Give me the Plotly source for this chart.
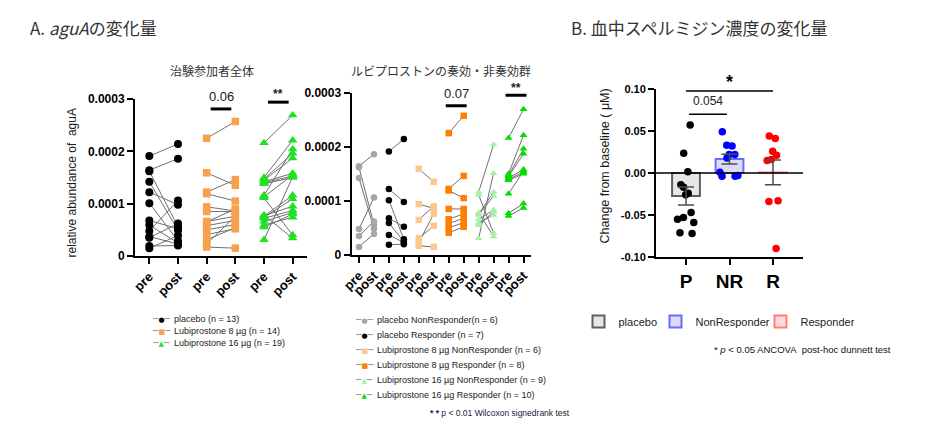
import numpy as np
import plotly.graph_objects as go

W, H = 945, 437

# ---------------- data ----------------
PHASES = ["pre", "post"]

# Panel A: relative abundance of aguA, pre / post (paired), by subgroup
PLACEBO_NR_PRE = [0.000164, 0.000162, 0.000142, 0.000048, 0.000035, 0.000015]
PLACEBO_NR_POST = [0.000186, 0.000056, 0.000049, 0.000106, 0.000062, 0.000039]
PLACEBO_R_PRE = [0.000191, 0.000122, 0.000101, 0.000068, 0.000059, 0.000037, 0.000019]
PLACEBO_R_POST = [0.000214, 0.000098, 0.000029, 0.000052, 0.000025, 0.000023, 0.000020]
L8_NR_PRE = [0.000159, 0.000094, 0.000065, 0.000031, 0.000023, 0.000017]
L8_NR_POST = [0.000135, 0.000086, 0.000090, 0.000054, 0.000076, 0.000015]
L8_R_PRE = [0.000225, 0.000122, 0.000119, 0.000085, 0.000066, 0.000058, 0.000050, 0.000041]
L8_R_POST = [0.000257, 0.000146, 0.000105, 0.000085, 0.000076, 0.000068, 0.000060, 0.000052]
L16_NR_PRE = [0.000116, 0.000111, 0.000078, 0.000076, 0.000074, 0.000066, 0.000059, 0.000055, 0.000031]
L16_NR_POST = [0.000204, 0.000040, 0.000034, 0.000116, 0.000109, 0.000083, 0.000074, 0.000080, 0.000151]
L16_R_PRE = [0.000216, 0.000150, 0.000147, 0.000145, 0.000142, 0.000140, 0.000138, 0.000113, 0.000077, 0.000072]
L16_R_POST = [0.000269, 0.000221, 0.000196, 0.000187, 0.000158, 0.000153, 0.000150, 0.000155, 0.000095, 0.000087]

A_TICKS = [0, 0.0001, 0.0002, 0.0003]
A_TICKTEXT = ["0", "0.0001", "0.0002", "0.0003"]
A_MAX = 0.0003

A1_LABELS = ["placebo", "Lubiprostone 8 µg", "Lubiprostone 16 µg"]
A2_LABELS = ["placebo NonResponder(n = {})", "placebo Responder (n = {})",
             "Lubiprostone 8 µg NonResponder (n = {})", "Lubiprostone 8 µg Responder (n = {})",
             "Lubiprostone 16 µg NonResponder (n = {})", "Lubiprostone 16 µg Responder (n = {})"]

# significance labels: (group index, label)
A1_SIG = [(1, "0.06"), (2, "**")]
A2_SIG = [(3, "0.07"), (5, "**")]

# Panel B: change from baseline of blood spermidine (µM)
B_CATS = ["P", "NR", "R"]
B_NAMES = ["placebo", "NonResponder", "Responder"]
B_P = [0.057, 0.0235, 0.0016, -0.014, -0.017, -0.024, -0.026, -0.047, -0.053, -0.055, -0.059, -0.071, -0.072]
B_NR = [0.049, 0.033, 0.032, 0.022, 0.022, 0.018, 0.001, -0.003, -0.004, -0.004]
B_R = [0.044, 0.041, 0.026, 0.021, 0.016, 0.015, -0.033, -0.034, -0.090]
B_TICKS = [-0.10, -0.05, 0.0, 0.05, 0.10]
B_MIN, B_MAX = -0.10, 0.10

# ---------------- styles ----------------
LINE_COL = "#707070"
A1_STYLE = [("#000000", "circle", 8), ("#f8a04c", "square", 7.5), ("#22e022", "triangle-up", 8.5)]
A2_STYLE = [("#a6a6a6", "circle", 6.5), ("#000000", "circle", 6.5),
            ("#ffc68e", "square", 6.5), ("#ff7f00", "square", 6.5),
            ("#a8f0a8", "triangle-up", 7), ("#00e000", "triangle-up", 7)]
GLYPH = {"circle": "●", "square": "■", "triangle-up": "▲"}
B_POINT = ["#000000", "#0000ff", "#ff0000"]
B_FILL = ["#e6e6e6", "#dcdcf8", "#ffdcdc"]
B_EDGE = ["#5f5f5f", "#6a6aff", "#ff7f7f"]
B_LEGEND_X = [578.5, 655.5, 760.5]

LAT = "Liberation Sans, Arial, sans-serif"
JP = "Noto Sans CJK JP, sans-serif"


def px(x):
    return x / W


def py(y):
    return 1 - y / H


def pair_xy(pre, post, g):
    xs, ys = [], []
    for a, b in zip(pre, post):
        xs += [2 * g, 2 * g + 1, None]
        ys += [a, b, None]
    return xs, ys


A2_GROUPS = [(PLACEBO_NR_PRE, PLACEBO_NR_POST), (PLACEBO_R_PRE, PLACEBO_R_POST),
             (L8_NR_PRE, L8_NR_POST), (L8_R_PRE, L8_R_POST),
             (L16_NR_PRE, L16_NR_POST), (L16_R_PRE, L16_R_POST)]
A1_GROUPS = [(A2_GROUPS[2 * k][0] + A2_GROUPS[2 * k + 1][0],
              A2_GROUPS[2 * k][1] + A2_GROUPS[2 * k + 1][1]) for k in range(3)]

fig = go.Figure()

for axn, groups, styles in (("", A1_GROUPS, A1_STYLE), ("2", A2_GROUPS, A2_STYLE)):
    for g, ((pre, post), (col, sym, size)) in enumerate(zip(groups, styles)):
        xs, ys = pair_xy(pre, post, g)
        fig.add_trace(go.Scatter(
            x=xs, y=ys, mode="lines+markers", xaxis="x" + axn, yaxis="y" + axn,
            line=dict(color=LINE_COL, width=1),
            marker=dict(color=col, symbol=sym, size=size, line=dict(width=0)),
            showlegend=False, cliponaxis=False, hoverinfo="skip"))

# Panel B bars (mean), points, SEM
B_DATA = [B_P, B_NR, B_R]
means = [float(np.mean(v)) for v in B_DATA]
sems = [float(np.std(v, ddof=1) / np.sqrt(len(v))) for v in B_DATA]
LEG_IDS = ["legend", "legend2", "legend3"]
for g, name in enumerate(B_NAMES):
    fig.add_trace(go.Bar(
        x=[g], y=[means[g]], width=0.64, name=name, xaxis="x3", yaxis="y3",
        marker=dict(color=B_FILL[g], line=dict(color=B_EDGE[g], width=2)),
        legend=LEG_IDS[g], hoverinfo="skip"))
for g, vals in enumerate(B_DATA):
    fig.add_trace(go.Box(
        x=[g] * len(vals), y=vals, xaxis="x3", yaxis="y3", boxpoints="all",
        jitter=0.9, pointpos=0, width=0.6, fillcolor="rgba(0,0,0,0)",
        line=dict(width=0, color="rgba(0,0,0,0)"),
        marker=dict(color=B_POINT[g], size=7.5), showlegend=False, hoverinfo="skip"))
fig.add_trace(go.Scatter(
    x=list(range(3)), y=means, mode="markers", xaxis="x3", yaxis="y3",
    marker=dict(opacity=0), showlegend=False, hoverinfo="skip",
    error_y=dict(type="data", array=sems, color="#4d4d4d", thickness=1.5, width=8)))

axis_common = dict(showline=True, linecolor="black", linewidth=2, ticks="outside",
                   ticklen=6, tickwidth=2, tickcolor="black", showgrid=False,
                   zeroline=False, fixedrange=True, automargin=False)
tick_bold12 = dict(family=LAT, size=12, color="black", weight="bold")
tick_bold11 = dict(family=LAT, size=11, color="black", weight="bold")
xtick_font = dict(family=LAT, size=13, color="black", weight="bold")

legends = {}
for lid, lx in zip(LEG_IDS, B_LEGEND_X):
    legends[lid] = dict(orientation="h", x=px(lx), y=py(307), xanchor="left", yanchor="top",
                        font=dict(family=LAT, size=11, color="#222222"),
                        bgcolor="rgba(0,0,0,0)", borderwidth=0, itemwidth=30)

fig.update_layout(
    template="none",
    width=W, height=H, margin=dict(l=0, r=0, t=0, b=0, pad=0, autoexpand=False),
    paper_bgcolor="white", plot_bgcolor="white",
    font=dict(family=LAT, color="#222222"),
    barmode="overlay", boxmode="overlay",
    xaxis=dict(domain=[px(135), px(307)], anchor="y", range=[-0.5, 5.5],
               tickvals=list(range(6)), ticktext=PHASES * 3, tickangle=-45,
               tickfont=xtick_font, **axis_common),
    yaxis=dict(domain=[py(256), py(99)], anchor="x", range=[0, A_MAX],
               tickvals=A_TICKS, ticktext=A_TICKTEXT, tickfont=tick_bold12, **axis_common),
    xaxis2=dict(domain=[px(351.5), px(531)], anchor="y2", range=[-0.5, 11.5],
                tickvals=list(range(12)), ticktext=PHASES * 6, tickangle=-45,
                tickfont=xtick_font, **axis_common),
    yaxis2=dict(domain=[py(255), py(92.5)], anchor="x2", range=[0, A_MAX],
                tickvals=A_TICKS, ticktext=A_TICKTEXT, tickfont=tick_bold12, **axis_common),
    xaxis3=dict(domain=[px(656), px(803)], anchor="y3", range=[-0.69, 2.69],
                tickvals=list(range(3)), ticktext=B_CATS,
                tickfont=dict(family=LAT, size=19, color="black", weight="bold"), **axis_common),
    yaxis3=dict(domain=[py(257), py(89)], anchor="x3", range=[B_MIN, B_MAX],
                tickvals=B_TICKS, ticktext=[f"{v:.2f}" for v in B_TICKS],
                tickfont=tick_bold11, **axis_common),
    **legends,
)

shapes = []
annotations = []

# zero reference line in panel B
shapes.append(dict(type="line", xref="x3 domain", yref="y3", x0=0, x1=1, y0=0, y1=0,
                   line=dict(color="black", width=1.5), layer="above"))

# significance bars panel A (text placed in axis-domain units so it may sit above the range)
for axn, sigs, half, bar_ys, txt_ys in (
        ("", A1_SIG, 0.36, {"0.06": 0.000281, "**": 0.000294}, {"0.06": 0.000304, "**": 0.000309}),
        ("2", A2_SIG, 0.70, {"0.07": 0.0002755, "**": 0.000295}, {"0.07": 0.000299, "**": 0.000309})):
    for g, lab in sigs:
        c = 2 * g + 0.5
        shapes.append(dict(type="line", xref="x" + axn, yref="y" + axn, x0=c - half, x1=c + half,
                           y0=bar_ys[lab], y1=bar_ys[lab], line=dict(color="black", width=3)))
        annotations.append(dict(xref="x" + axn, yref=f"y{axn} domain", x=c,
                                y=txt_ys[lab] / A_MAX, text=lab,
                                showarrow=False, xanchor="center", yanchor="middle",
                                font=dict(family=LAT, size=13 if lab != "**" else 12,
                                          color="#222222",
                                          weight="normal" if lab != "**" else "bold")))


def bdom(v):
    return (v - B_MIN) / (B_MAX - B_MIN)


# significance panel B
shapes.append(dict(type="line", xref="x3", yref="y3", x0=0, x1=2, y0=0.0976, y1=0.0976,
                   line=dict(color="black", width=1.5)))
annotations.append(dict(xref="x3", yref="y3 domain", x=1, y=bdom(0.108), text="*",
                        showarrow=False, xanchor="center", yanchor="middle",
                        font=dict(family=LAT, size=18, color="black", weight="bold")))
shapes.append(dict(type="line", xref="x3", yref="y3", x0=0.07, x1=0.94, y0=0.070, y1=0.070,
                   line=dict(color="black", width=1.5)))
annotations.append(dict(xref="x3", yref="y3 domain", x=0.5, y=bdom(0.0857), text="0.054",
                        showarrow=False, xanchor="center", yanchor="middle",
                        font=dict(family=LAT, size=12, color="#222222")))


def note(x, y, text, font, xanchor="center", angle=0):
    annotations.append(dict(xref="paper", yref="paper", x=px(x), y=py(y), showarrow=False,
                            xanchor=xanchor, yanchor="middle", textangle=angle, text=text,
                            font=font))


# titles
note(28, 27, "A. <i>aguA</i>の変化量", dict(family=JP, size=17, color="#333333"), "left")
note(569, 27, "B. 血中スペルミジン濃度の変化量", dict(family=JP, size=17, color="#333333"), "left")
note(212, 70, "治験参加者全体", dict(family=JP, size=12, color="#333333"))
note(441, 70, "ルビプロストンの奏効・非奏効群", dict(family=JP, size=12, color="#333333"))
# axis titles
note(72, 183.5, "relative abundance of&nbsp; aguA", dict(family=LAT, size=12, color="#1a1a1a"),
     angle=-90)
note(605, 166.5, "Change from baseline ( μM)", dict(family=LAT, size=12.5, color="#1a1a1a"),
     angle=-90)


def key_text(color, sym):
    ln = "<span style='color:#808080'>─</span>"
    return f"{ln}<span style='color:{color};font-size:7px'>{GLYPH[sym]}</span>{ln}"


# legend A1
for i, ((pre, post), (col, sym, _), lab) in enumerate(zip(A1_GROUPS, A1_STYLE, A1_LABELS)):
    yy = 319 + 11.9 * i
    note(161, yy, key_text(col, sym), dict(family="DejaVu Sans", size=9))
    note(172, yy, f"{lab} (n = {len(pre)})", dict(family=LAT, size=9, color="#222222"), "left")
# legend A2
for i, ((pre, post), (col, sym, _), lab) in enumerate(zip(A2_GROUPS, A2_STYLE, A2_LABELS)):
    yy = 320 + 14.9 * i
    note(364, yy, key_text(col, sym), dict(family="DejaVu Sans", size=9))
    note(375, yy, lab.format(len(pre)), dict(family=LAT, size=9, color="#222222"), "left")

# footnotes
note(428, 413, "<b>* *</b> p &lt; 0.01 Wilcoxon signedrank test",
     dict(family=LAT, size=8.5, color="#1a1a3a"), "left")
note(712, 349, "* <i>p</i> &lt; 0.05 ANCOVA&nbsp; post-hoc dunnett test",
     dict(family=LAT, size=9.5, color="#111111"), "left")

fig.update_layout(shapes=shapes, annotations=annotations)
fig.write_html("out.html", config={"displayModeBar": False},
               post_script="document.body.style.margin='0px';")
